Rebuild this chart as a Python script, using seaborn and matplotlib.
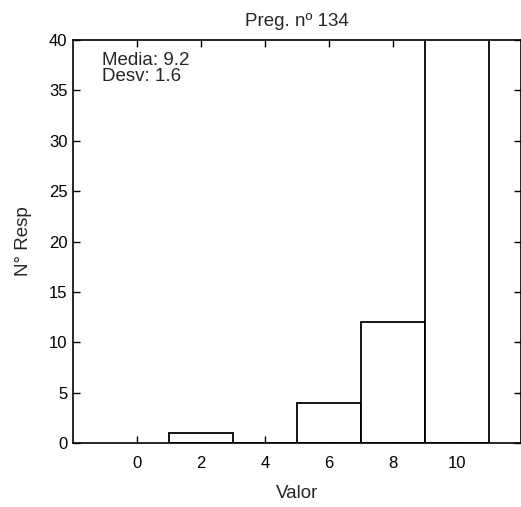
import matplotlib
matplotlib.use("Agg")
import matplotlib.pyplot as plt
import seaborn as sns

# Datos
valores = [2, 4, 6, 8, 10]
respuestas = [1, 0, 4, 12, 43]
bordes = [1, 3, 5, 7, 9, 11]
x_ticks = [0, 2, 4, 6, 8, 10]
y_ticks = [0, 5, 10, 15, 20, 25, 30, 35, 40]
titulo = "Preg. nº 134"
resumen = "Media: 9.2\nDesv: 1.6"

sns.set_style("ticks")
plt.rcParams["font.family"] = ["Liberation Sans", "DejaVu Sans"]

fig = plt.figure(figsize=(5.21, 5.07), dpi=100)
ax = fig.add_axes([0.140, 0.126, 0.860, 0.795])

sns.histplot(x=valores, weights=respuestas, bins=bordes, ax=ax,
             color="white", edgecolor="black", linewidth=1.3, alpha=1)

ax.set_xlim(-2, 12)
ax.set_ylim(0, 40)
ax.set_xticks(x_ticks)
ax.set_yticks(y_ticks)
ax.tick_params(direction="in", length=5, width=1, top=True, right=True,
               labelsize=12, colors="black")
ax.tick_params(axis="x", pad=9)
ax.tick_params(axis="y", pad=4)
for s in ax.spines.values():
    s.set_visible(True)
    s.set_linewidth(1.2)
    s.set_color("black")

ax.set_title(titulo, fontsize=13.5, pad=10)
ax.set_xlabel("Valor", fontsize=13.5, labelpad=10)
ax.set_ylabel("N° Resp", fontsize=13.5, labelpad=12)
ax.text(0.065, 0.97, resumen, transform=ax.transAxes, ha="left", va="top",
        fontsize=13.5, linespacing=0.9)

fig.savefig("out.png", dpi=100)
